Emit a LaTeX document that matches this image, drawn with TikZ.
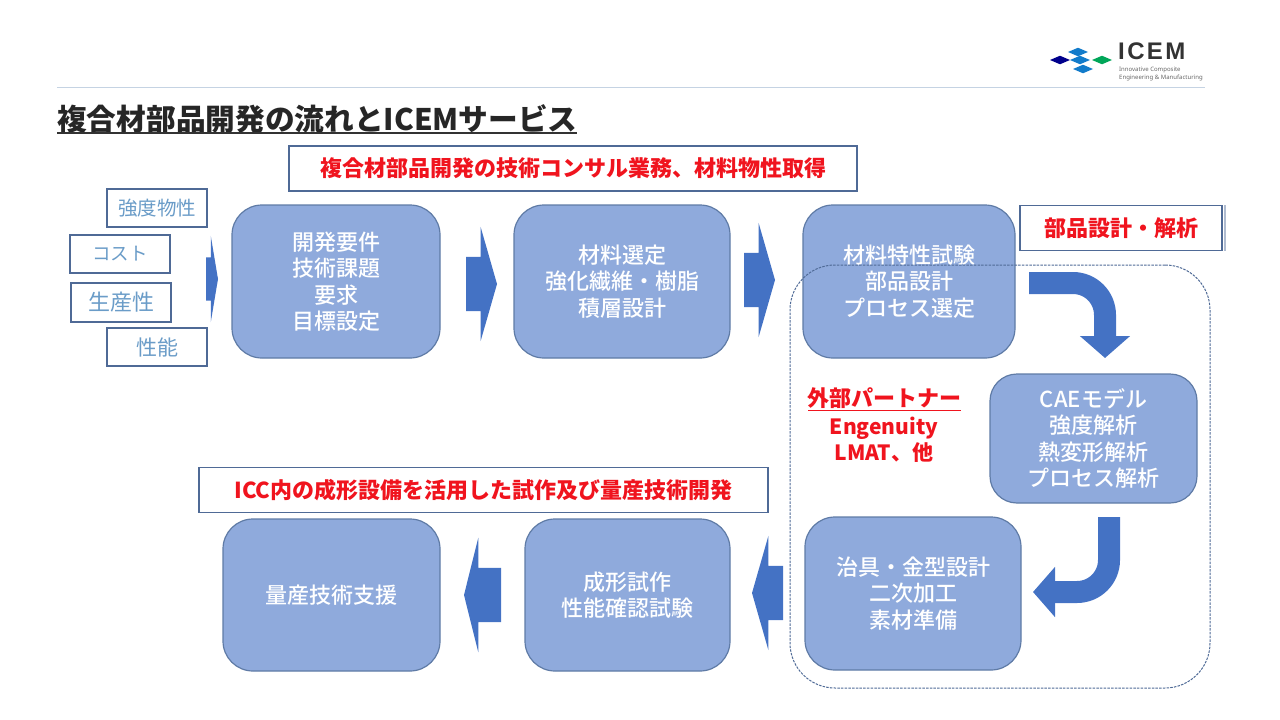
\documentclass[tikz,border=0pt]{standalone}
\usepackage{xcolor}
\usepackage{fontspec}
\setmainfont{Noto Sans CJK JP}
\newfontfamily\mediumfont{Noto Sans CJK JP Medium}
\newfontfamily\logofont[LetterSpace=10]{Liberation Sans}
\newfontfamily\smallfont{Noto Sans}
\usepackage{tikz}
\usetikzlibrary{shapes.geometric, shapes.arrows, arrows.meta, positioning}

\definecolor{stagefill}{HTML}{8FAADC}
\definecolor{stageline}{HTML}{5F7BA6}
\definecolor{arrowblue}{HTML}{4472C4}
\definecolor{boxline}{HTML}{4F6A96}
\definecolor{factortext}{HTML}{6A9CC8}
\definecolor{bannerred}{HTML}{F0141E}
\definecolor{rulegray}{HTML}{C5D3E3}

\begin{document}
\begin{tikzpicture}[x=1pt, y=-1pt,
    stage/.style={rectangle, draw=stageline, fill=stagefill, line width=1.2pt, rounded corners=30pt, outer sep=0pt,
        align=center, text=white, font=\mediumfont\fontsize{22}{26.5}\selectfont},
    banner/.style={rectangle, draw=boxline, fill=white, line width=1.5pt, outer sep=0pt, minimum height=45pt,
        text=bannerred, font=\fontsize{22}{26}\selectfont\bfseries},
    factor/.style={rectangle, draw=boxline, fill=white, line width=1.5pt, outer sep=0pt, minimum width=100pt,
        minimum height=38pt, text=factortext, font=\fontsize{19.5}{24}\selectfont},
    blockarrow/.style={single arrow, fill=arrowblue, inner xsep=0pt, inner ysep=27pt, outer sep=0pt, anchor=tail, minimum height=31pt,
        single arrow head extend=30pt, single arrow tip angle=148},
    backarrow/.style={blockarrow, shape border rotate=180},
    bendarrow/.style={draw=arrowblue, line width=22pt, rounded corners=32pt, -{Triangle[length=22pt, width=49pt]}},
    logodia/.style={diamond, inner sep=0pt, outer sep=0pt, aspect=2.4, minimum width=20pt, minimum height=8.5pt}]

    \useasboundingbox (0,0) rectangle (1280,720);

    % heading
    \node [anchor=west, inner sep=0pt, font=\fontsize{29.7}{32}\selectfont\bfseries, text=black!85] (title) at (57,119)
        {複合材部品開発の流れとICEMサービス};
    \coordinate (rulea) at (57,87);
    \coordinate (ruleb) at (1205,87);
    \coordinate (titlea) at (57,133);
    \coordinate (titleb) at (577,133);
    \draw [color=rulegray, line width=1pt] (rulea) -- (ruleb);
    \draw [color=black!80, line width=2pt] (titlea) -- (titleb);

    % logo
    \node [logodia, fill=blue!55!black] (dia1) at (1060,60) {};
    \node [logodia, fill=cyan!60!blue] (dia2) at (1078,52) {};
    \node [logodia, fill=cyan!60!blue] (dia3) at (1080,60) {};
    \node [logodia, fill=cyan!60!blue] (dia4) at (1083,69) {};
    \node [logodia, fill=teal!70!green] (dia5) at (1102,60) {};
    \node [anchor=west, inner sep=0pt, font=\logofont\fontsize{24}{26}\selectfont\bfseries, text=black!80] (logo) at (1118,51) {ICEM};
    \node [anchor=west, inner sep=0pt, font=\smallfont\fontsize{6}{8}\selectfont, text=black!60, align=left] (logosub) at (1119,74)
        {Innovative Composite\\Engineering \& Manufacturing};

    % stages
    \node [stage, minimum width=208pt, minimum height=153pt] (req) at (336,281.5) {開発要件\\技術課題\\要求\\目標設定};
    \node [stage, minimum width=216pt, minimum height=153pt, right=74pt of req] (mat) {材料選定\\強化繊維・樹脂\\積層設計};
    \node [stage, minimum width=212pt, minimum height=153pt, right=73pt of mat] (test) {材料特性試験\\部品設計\\プロセス選定};
    \node [stage, minimum width=207pt, minimum height=129pt, rounded corners=27pt] (cae) at (1093.5,438.5) {CAEモデル\\強度解析\\熱変形解析\\プロセス解析};
    \node [stage, minimum width=216pt, minimum height=153pt] (jig) at (913,593.5) {治具・金型設計\\二次加工\\素材準備};
    \node [stage, minimum width=205pt, minimum height=152pt] (proto) at (627.5,595) {成形試作\\性能確認試験};
    \node [stage, minimum width=217pt, minimum height=152pt, left=85pt of proto] (mass) {量産技術支援};

    % banners
    \node [banner, minimum width=568pt] (bantop) at (573,168.5) {複合材部品開発の技術コンサル業務、材料物性取得};
    \node [banner, minimum width=569pt] (banlow) at (483.5,490) {ICC内の成形設備を活用した試作及び量産技術開発};
    \node [banner, minimum width=202pt] (banpart) at (1121,228) {部品設計・解析};
    \coordinate (edgea) at (1225,205);
    \coordinate (edgeb) at (1225,251);
    \draw [color=boxline!45, line width=1.5pt] (edgea) -- (edgeb);

    % factors
    \node [factor] (strength) at (157,208) {強度物性};
    \node [factor, font=\fontsize{18.5}{24}\selectfont] (cost) at (120,254) {コスト};
    \node [factor, minimum height=39pt, font=\fontsize{22}{24}\selectfont] (yield) at (121,302.5) {生産性};
    \node [factor, font=\fontsize{21}{24}\selectfont] (perf) at (157,347) {性能};

    % block arrows
    \node [blockarrow, minimum height=12pt, inner ysep=21.5pt, single arrow head extend=21.5pt, single arrow tip angle=161] (ar1) at (206,279) {};
    \node [blockarrow] (ar2) at (466,284) {};
    \node [blockarrow] (ar3) at (744,280) {};
    \node [backarrow] (ar4) at (783,593) {};
    \node [backarrow, minimum height=37pt, single arrow tip angle=152] (ar5) at (501,595) {};

    % bent arrows
    \coordinate (benda) at (1029,283);
    \coordinate (bendb) at (1105,358);
    \coordinate (bendc) at (1109,517);
    \coordinate (bendd) at (1033,592);
    \draw [bendarrow] (benda) -| (bendb);
    \draw [bendarrow] (bendc) |- (bendd);

    % partner area
    \node [rectangle, draw=boxline, line width=1pt, dash pattern=on 2.5pt off 1.2pt, rounded corners=45pt, minimum width=420pt, minimum height=423pt,
        outer sep=0pt] (partnerarea) at (1000,476.5) {};
    \node [font=\fontsize{22}{26}\selectfont\bfseries, text=bannerred, inner sep=0pt] (partner) at (884,398) {外部パートナー};
    \node [font=\fontsize{21}{25.5}\selectfont\bfseries, text=bannerred, align=center, inner sep=0pt, below=8.5pt of partner] (names) {Engenuity\\LMAT、他};
    \coordinate (undera) at (808,410.5);
    \coordinate (underb) at (961,410.5);
    \draw [color=bannerred, line width=1.5pt] (undera) -- (underb);
\end{tikzpicture}
\end{document}
